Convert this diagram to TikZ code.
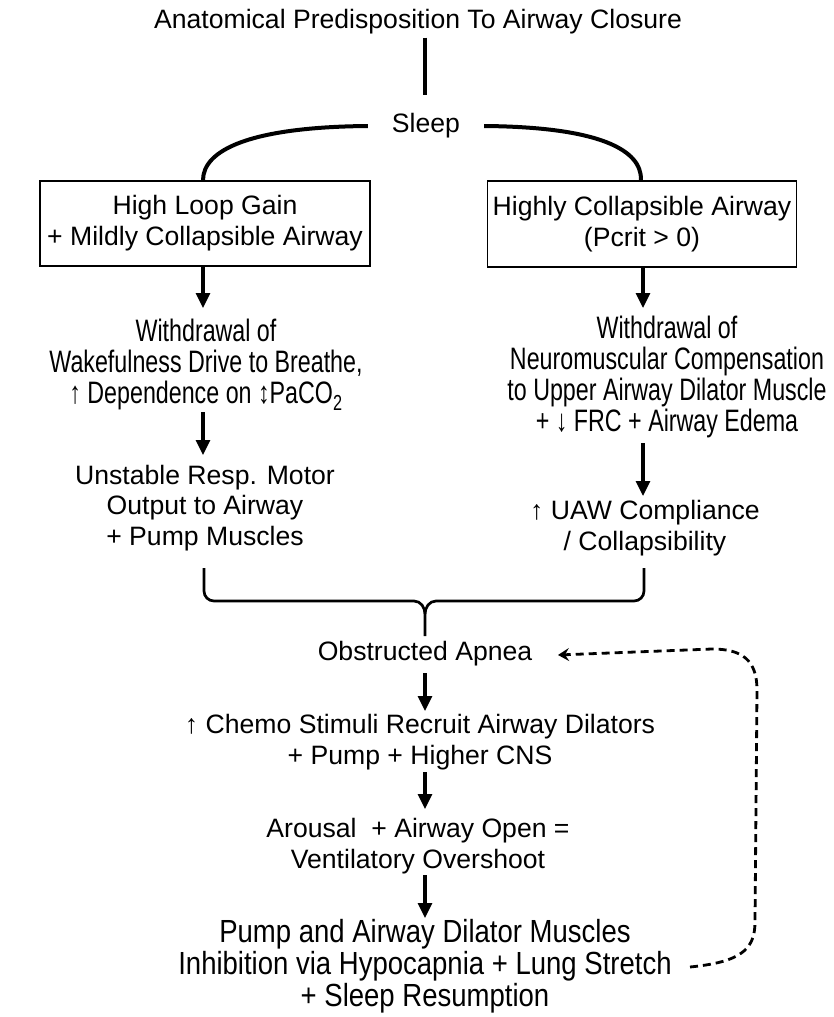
\documentclass[tikz,border=0pt]{standalone}
\usepackage{fontspec}
\setmainfont{Liberation Sans}
\newfontfamily\narrowfont{Liberation Sans}[FakeStretch=0.86]
\newfontfamily\narrowerfont{Liberation Sans}[FakeStretch=0.75]
\usetikzlibrary{arrows.meta}
\tikzset{
  every node/.style={font=\fontsize{26.6}{30.8}\selectfont, inner sep=1pt, align=center},
  narrowtext/.style={font=\narrowfont\fontsize{32}{31.8}\selectfont},
  narrowertext/.style={font=\narrowerfont\fontsize{31}{31}\selectfont},
  boxnode/.style={draw, line width=1.5pt},
  arr/.style={line width=3.2pt, -{Triangle[width=14pt,length=15pt]}},
  fb/.style={line width=2.8pt, dash pattern=on 8pt off 5pt, -{Stealth[length=11pt,width=13pt,inset=4pt]}},
}
\begin{document}
\begin{tikzpicture}[x=1pt,y=-1pt]
		\useasboundingbox (0,0) rectangle (833,1017);
		\node (title) at (418,22) {Anatomical Predisposition To Airway Closure};
		\node[inner xsep=24pt] (sleep) at (426,126) {Sleep};
		\draw[line width=4.5pt] (title.south -| 425,0) ++(0,2) -- (425,95);

		\node[boxnode, minimum width=330, minimum height=85] (lbox) at (205,223.5) {High Loop Gain\\+ Mildly Collapsible Airway};
		\node[boxnode, minimum width=309, minimum height=86] (rbox) at (642,224) {Highly Collapsible Airway\\(Pcrit > 0)};
		\draw[line width=4pt] (sleep.west) .. controls (250,127) and (203,150) .. ([xshift=-2]lbox.north);
		\draw[line width=4pt] (sleep.east) .. controls (600,127) and (642,150) .. ([xshift=-1]rbox.north);

		% left branch
		\node[narrowertext] (lwd) at (206,365) {Withdrawal of\\Wakefulness Drive to Breathe,\\↑ Dependence on ↕PaCO\textsubscript{2}};
		\node (unst) at (205,508) {Unstable Resp. Motor\\Output to Airway\\+ Pump Muscles};
		\draw[arr] (lbox.south -| 203,0) -- (203,308);
		\draw[arr] (203,412) -- (203,455);

		% right branch
		\node[narrowertext] (rwd) at (667,377) {Withdrawal of\\Neuromuscular Compensation\\to Upper Airway Dilator Muscle\\+ ↓ FRC + Airway Edema};
		\node (uaw) at (645,528) {↑ UAW Compliance\\/ Collapsibility};
		\draw[arr] (rbox.south -| 643,0) -- (643,308);
		\draw[arr] (643,443) -- (643,496);

		% brace
		\coordinate (bl) at (204,568);
		\coordinate (br) at (644,568);
		\coordinate (bt) at (425,636);
		\draw[line width=2.7pt] (bl) -- (204,591) to[out=-90,in=180] (214,601) -- (414,601) to[out=0,in=90] (bt |- 0,614) -- (bt);
		\draw[line width=2.7pt] (br) -- (644,591) to[out=-90,in=0] (634,601) -- (436,601) to[out=180,in=90] (bt |- 0,614);

		% main chain
		\node (obs) at (425,654) {Obstructed Apnea};
		\node (chemo) at (420,742) {↑ Chemo Stimuli Recruit Airway Dilators\\+ Pump + Higher CNS};
		\node (arou) at (418,846) {Arousal\ \ + Airway Open =\\Ventilatory Overshoot};
		\node[narrowtext] (pump) at (425,966) {Pump and Airway Dilator Muscles\\Inhibition via Hypocapnia + Lung Stretch\\+ Sleep Resumption};
		\draw[arr] (425,673) -- (425,711);
		\draw[arr] (425,772) -- (425,809);
		\draw[arr] (425,875) -- (425,918);

		% feedback
		\coordinate (fbs) at (690,967);
		\coordinate (fbe) at (558,655);
		\draw[fb] (fbs) .. controls (740,962) and (755,950) .. (755,922) -- (757,690) .. controls (757,660) and (742,649) .. (712,649) -- (fbe);
	\end{tikzpicture}
\end{document}
